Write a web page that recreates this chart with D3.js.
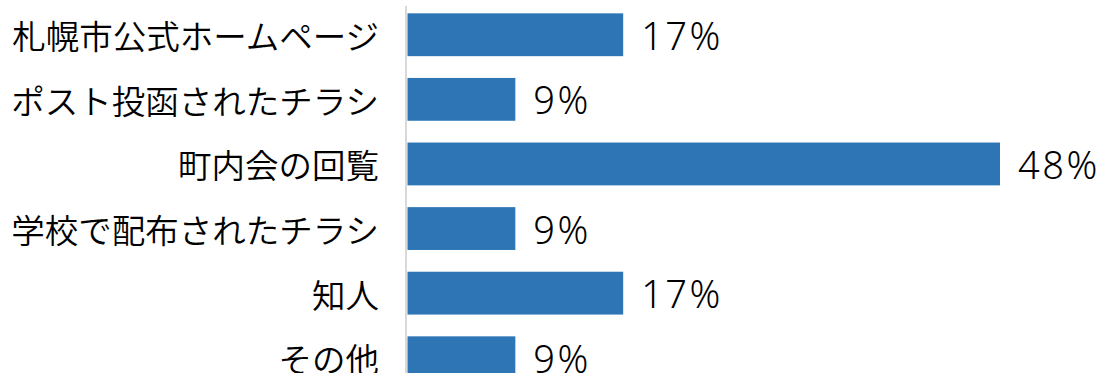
<!DOCTYPE html>
<html>
<head>
<meta charset="utf-8">
<script src="https://cdn.jsdelivr.net/npm/d3@7"></script>
<style>
  html, body { margin: 0; padding: 0; background: #fff; }
  svg { display: block; }
</style>
</head>
<body>
<svg id="chart" width="1105" height="373"></svg>
<script>
// Data
const categories = ['札幌市公式ホームページ', 'ポスト投函されたチラシ', '町内会の回覧', '学校で配布されたチラシ', '知人', 'その他'];
const values = [17.4, 8.7, 47.8, 8.7, 17.4, 8.7];
const valueLabels = ['17%', '9%', '48%', '9%', '17%', '9%'];

const width = 1105;
const height = 373;
const svg = d3.select('#chart');

const x0 = 407.5;
const xScale = d3.scaleLinear()
    .domain([0, 47.8])
    .range([x0, 1000]);

const yScale = d3.scaleBand()
    .domain(categories)
    .range([3, 389.5])
    .paddingInner(0.337)
    .paddingOuter(0.16);

// bars
svg.selectAll('rect.bar')
    .data(categories)
    .enter()
    .append('rect')
    .attr('class', 'bar')
    .attr('x', xScale(0))
    .attr('y', d => yScale(d))
    .attr('width', (d, i) => xScale(values[i]) - xScale(0))
    .attr('height', yScale.bandwidth())
    .attr('fill', '#2E75B6');

// axis line
svg.append('line')
    .attr('x1', 406).attr('x2', 406)
    .attr('y1', 6).attr('y2', height)
    .attr('stroke', '#d9d9d9')
    .attr('stroke-width', 2);

// category labels
svg.selectAll('text.cat')
    .data(categories)
    .enter()
    .append('text')
    .attr('class', 'cat')
    .attr('x', 379)
    .attr('y', d => yScale(d) + yScale.bandwidth() / 2)
    .attr('text-anchor', 'end')
    .attr('dominant-baseline', 'central')
    .style('font-family', '"Noto Sans CJK JP", sans-serif')
    .style('font-size', '33.5px')
    .style('font-weight', 350)
    .attr('fill', '#000')
    .text(d => d);

// value labels
svg.selectAll('text.val')
    .data(categories)
    .enter()
    .append('text')
    .attr('class', 'val')
    .attr('x', (d, i) => xScale(values[i]) + 18)
    .attr('y', d => yScale(d) + yScale.bandwidth() / 2)
    .attr('dominant-baseline', 'central')
    .style('font-family', '"Noto Sans", sans-serif')
    .style('font-size', '38px')
    .style('font-weight', 300)
    .style('letter-spacing', '2.5px')
    .attr('fill', '#000')
    .text((d, i) => valueLabels[i]);
</script>
</body>
</html>
